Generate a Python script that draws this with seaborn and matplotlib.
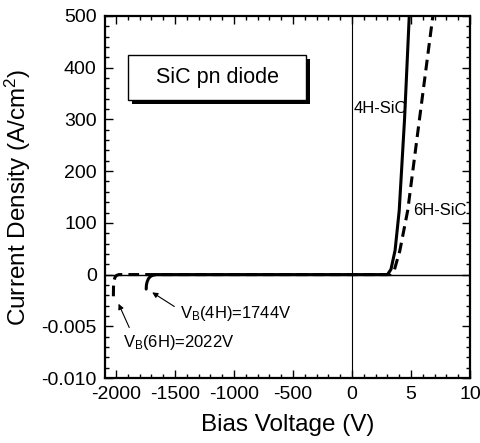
import numpy as np
import matplotlib
matplotlib.use('Agg')
import matplotlib.pyplot as plt
import matplotlib.patheffects as pe
from matplotlib.patches import Rectangle
import seaborn as sns

# I-V data (V in volts, J in A/cm^2)
v_4h = [-1744, -1742, -1736, -1725, -1710, -1690, -1660, 3.0, 3.3, 3.65, 4.0, 4.45, 4.85]
j_4h = [-0.0014, -0.0010, -0.0007, -0.0004, -0.0002, -0.00007, 0, 0, 10, 47, 124, 300, 500]

v_6h = [-2022, -2021, -2017, -2008, -1995, -1975, 3.3, 3.6, 4.05, 4.72, 5.6, 6.85]
j_6h = [-0.0021, -0.0012, -0.0006, -0.00025, -0.00008, 0, 0, 10, 46, 124, 280, 500]

x_major = [-2000, -1500, -1000, -500, 0, 5, 10]
x_major_labels = ['-2000', '-1500', '-1000', '-500', '0', '5', '10']
x_minor = [v for v in range(-2000, 0, 100)] + [1, 2, 3, 4, 6, 7, 8, 9]

y_major = [-0.010, -0.005, 0, 100, 200, 300, 400, 500]
y_major_labels = ['-0.010', '-0.005', '0', '100', '200', '300', '400', '500']
y_minor = [-0.009, -0.008, -0.007, -0.006, -0.004, -0.003, -0.002, -0.001] + \
    [v for v in range(20, 500, 20) if v % 100 != 0]

sns.set_theme(style='ticks')
plt.rcParams['font.family'] = ['Liberation Sans', 'DejaVu Sans']
plt.rcParams['mathtext.default'] = 'regular'
plt.rcParams['text.color'] = 'black'
plt.rcParams['axes.labelcolor'] = 'black'
plt.rcParams['xtick.color'] = 'black'
plt.rcParams['ytick.color'] = 'black'


# broken axes: negative voltages squeezed 100x, negative currents stretched 20000x
def fwd_x(x):
    x = np.asarray(x, dtype=float)
    return np.where(x < 0, x / 100.0, x)


def inv_x(u):
    u = np.asarray(u, dtype=float)
    return np.where(u < 0, u * 100.0, u)


def fwd_y(y):
    y = np.asarray(y, dtype=float)
    return np.where(y < 0, y * 20000.0, y)


def inv_y(v):
    v = np.asarray(v, dtype=float)
    return np.where(v < 0, v / 20000.0, v)


fig = plt.figure(figsize=(4.81, 4.43), dpi=100)
ax = fig.add_axes([0.2183, 0.1467, 0.7589, 0.8172])
ax.set_xscale('function', functions=(fwd_x, inv_x))
ax.set_yscale('function', functions=(fwd_y, inv_y))

ax.axhline(0, color='black', lw=1.0, zorder=1)
ax.axvline(0, color='black', lw=0.8, zorder=1)

sns.lineplot(x=v_6h, y=j_6h, ax=ax, color='black', lw=2.2, estimator=None,
             linestyle=(0, (3.5, 2)), zorder=3)
sns.lineplot(x=v_4h, y=j_4h, ax=ax, color='black', lw=2.2, estimator=None, zorder=4)

ax.set_xlim(-2093, 10)
ax.set_ylim(-0.010, 500)

ax.set_xticks(x_major, labels=x_major_labels)
ax.set_xticks(x_minor, minor=True)
ax.set_yticks(y_major, labels=y_major_labels)
ax.set_yticks(y_minor, minor=True)
ax.tick_params(which='both', direction='in', top=True, right=True, colors='black',
               labelsize=14, width=1.0)
ax.tick_params(which='major', length=6, pad=6)
ax.tick_params(which='minor', length=3)
for s in ax.spines.values():
    s.set_linewidth(1.6)
    s.set_color('black')

ax.set_xlabel('Bias Voltage (V)', fontsize=17.5, labelpad=8)
ax.set_ylabel('Current Density (A/cm$^2$)', fontsize=17.5, labelpad=6)

# title box with drop shadow
box = Rectangle((0.063, 0.768), 0.488, 0.124, transform=ax.transAxes,
                facecolor='white', edgecolor='black', lw=1.0, zorder=5)
box.set_path_effects([pe.SimplePatchShadow(offset=(3, -3), shadow_rgbFace='black', alpha=1),
                      pe.Normal()])
ax.add_patch(box)
ax.text(0.307, 0.830, 'SiC pn diode', transform=ax.transAxes, ha='center', va='center',
        fontsize=15.5, zorder=6)

ax.text(0.1, 322, '4H-SiC', ha='left', va='center', fontsize=12)
ax.text(5.2, 124, '6H-SiC', ha='left', va='center', fontsize=12)

arrow = dict(arrowstyle='-|>', color='black', lw=0.8, mutation_scale=8, shrinkA=2, shrinkB=1)
ax.annotate('V$_B$(4H)=1744V', xy=(-1703, -0.00165), xytext=(-1458, -0.0038),
            ha='left', va='center', fontsize=12,
            arrowprops=dict(arrow, relpos=(0, 0.7)))
ax.annotate('V$_B$(6H)=2022V', xy=(-1983, -0.0027), xytext=(-1941, -0.0066),
            ha='left', va='center', fontsize=12,
            arrowprops=dict(arrow, relpos=(0.08, 1.0)))

fig.savefig('out.png', dpi=100)
